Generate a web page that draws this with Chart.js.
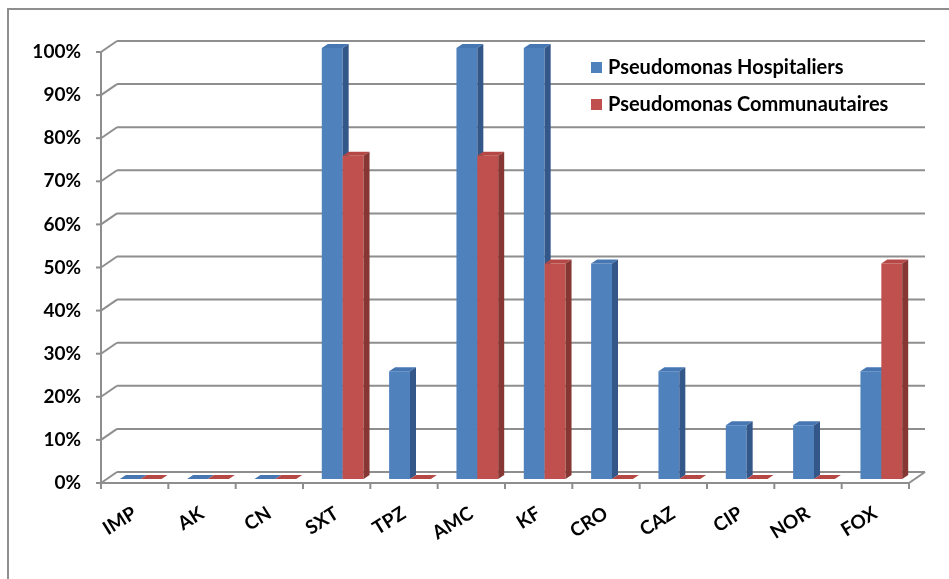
<!DOCTYPE html>
<html>
<head>
<meta charset="utf-8">
<script src="https://cdn.jsdelivr.net/npm/chart.js@4.4.0/dist/chart.umd.min.js"></script>
<style>
  html, body { margin: 0; padding: 0; background: #fff; }
  #wrap { position: relative; width: 949px; height: 579px; overflow: hidden; }
  #frame { position: absolute; left: 7px; top: 8px; width: 980px; height: 620px;
           border: 2px solid #8e8e8e; box-sizing: border-box; }
  canvas { position: absolute; left: 0; top: 0; }
</style>
</head>
<body>
<div id="wrap">
  <div id="frame"></div>
  <canvas id="chart" width="949" height="579"></canvas>
</div>
<script>
/* ---------- data ---------- */
const categories = ["IMP", "AK", "CN", "SXT", "TPZ", "AMC", "KF", "CRO", "CAZ", "CIP", "NOR", "FOX"];
const hospitaliers = [0, 0, 0, 100, 25, 100, 100, 50, 25, 12.5, 12.5, 25];
const communautaires = [0, 0, 0, 75, 0, 75, 50, 0, 0, 0, 0, 50];
const seriesNames = ["Pseudomonas Hospitaliers", "Pseudomonas Communautaires"];
const yTicks = [0, 10, 20, 30, 40, 50, 60, 70, 80, 90, 100];

/* ---------- 3D look ---------- */
const WALL = { dx: 16, dy: -11 };   // back wall offset from the front plane
const SHIFT = { dx: 6, dy: -4 };    // where the bars stand
const DEPTH = { dx: 6, dy: -4 };    // thickness of a bar
const faces = [
    { front: "#4F81BD", top: "#4677B3", side: "#34578A" },
    { front: "#C0504D", top: "#B54845", side: "#863633" }
];

function line(ctx, x1, y1, x2, y2) {
    ctx.beginPath();
    ctx.moveTo(x1, y1);
    ctx.lineTo(x2, y2);
    ctx.stroke();
}
function poly(ctx, pts, color) {
    ctx.beginPath();
    ctx.moveTo(pts[0][0], pts[0][1]);
    for (let i = 1; i < pts.length; i++) ctx.lineTo(pts[i][0], pts[i][1]);
    ctx.closePath();
    ctx.fillStyle = color;
    ctx.fill();
}

const box3d = {
    id: "box3d",
    beforeDatasetsDraw(chart) {
        const { ctx, chartArea: a, scales: { x, y } } = chart;
        ctx.save();
        ctx.strokeStyle = "#8e8e8e";
        ctx.lineWidth = 2;
        yTicks.forEach(v => {
            const py = y.getPixelForValue(v);
            line(ctx, a.left - 5, py, a.left, py);
            line(ctx, a.left, py, a.left + WALL.dx, py + WALL.dy);
            line(ctx, a.left + WALL.dx, py + WALL.dy, a.right + WALL.dx, py + WALL.dy);
        });
        line(ctx, a.left, y.getPixelForValue(100) - 1, a.left, a.bottom + 6);
        line(ctx, a.left, a.bottom, a.right, a.bottom);
        line(ctx, a.right, a.bottom, a.right + WALL.dx, a.bottom + WALL.dy);
        for (let i = 0; i <= categories.length; i++) {
            const px = x.getPixelForValue(i - 0.5);
            line(ctx, px, a.bottom, px, a.bottom + 6);
        }
        ctx.restore();
    },
    beforeDatasetDraw() {
        return false; // bars are drawn below, front to back per category
    },
    afterDatasetsDraw(chart) {
        const ctx = chart.ctx;
        const metas = chart.data.datasets.map((d, i) => chart.getDatasetMeta(i));
        ctx.save();
        for (let i = 0; i < categories.length; i++) {
            metas.forEach((meta, s) => {
                const el = meta.data[i];
                const c = faces[s];
                const l = el.x - el.width / 2 + SHIFT.dx;
                const r = el.x + el.width / 2 + SHIFT.dx;
                const t = el.y + SHIFT.dy;
                const b = el.base + SHIFT.dy;
                poly(ctx, [[l, t], [r, t], [r, b], [l, b]], c.front);
                poly(ctx, [[l, t], [r, t], [r + DEPTH.dx, t + DEPTH.dy], [l + DEPTH.dx, t + DEPTH.dy]], c.top);
                poly(ctx, [[r, t], [r + DEPTH.dx, t + DEPTH.dy], [r + DEPTH.dx, b + DEPTH.dy], [r, b]], c.side);
            });
        }
        ctx.restore();
    },
    afterDraw(chart) {
        // legend, inside the plot at the top right
        const ctx = chart.ctx;
        ctx.save();
        ctx.font = "bold 20px Lato";
        ctx.textBaseline = "middle";
        chart.data.datasets.forEach((ds, i) => {
            const yy = 68 + i * 37;
            ctx.fillStyle = faces[i].front;
            ctx.fillRect(591, yy - 6, 11, 11);
            ctx.fillStyle = "#000";
            ctx.fillText(ds.label, 608, yy);
        });
        ctx.restore();
    }
};

new Chart(document.getElementById("chart"), {
    type: "bar",
    data: {
        labels: categories,
        datasets: [
            { label: seriesNames[0], data: hospitaliers, backgroundColor: faces[0].front },
            { label: seriesNames[1], data: communautaires, backgroundColor: faces[1].front }
        ]
    },
    options: {
        responsive: false,
        animation: false,
        layout: { padding: { top: 52, right: 40, left: 0, bottom: 0 } },
        categoryPercentage: 0.62,
        barPercentage: 1,
        plugins: { legend: { display: false }, tooltip: { enabled: false } },
        scales: {
            x: {
                grid: { display: false, drawTicks: false },
                border: { display: false },
                ticks: {
                    color: "#000",
                    font: { family: "Lato", weight: "bold", size: 19 },
                    minRotation: 32, maxRotation: 32,
                    padding: 19
                },
                afterFit(scale) { scale.height = 96; }
            },
            y: {
                min: 0, max: 100,
                grid: { display: false, drawTicks: false },
                border: { display: false },
                ticks: {
                    stepSize: 10,
                    color: "#000",
                    font: { family: "Lato", weight: "bold", size: 19 },
                    padding: 20,
                    callback: v => v + "%"
                },
                afterFit(scale) { scale.width = 101; }
            }
        }
    },
    plugins: [box3d]
});
</script>
</body>
</html>
